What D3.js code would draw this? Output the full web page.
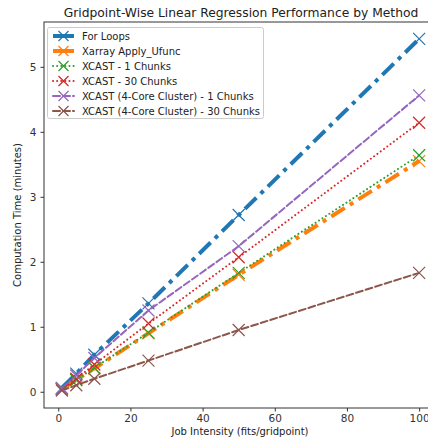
<!DOCTYPE html>
<html><head><meta charset="utf-8">
<script src="https://cdn.jsdelivr.net/npm/d3@7"></script>
<style>body{margin:0;background:#fff}svg{display:block;font-family:"DejaVu Sans",sans-serif}</style>
</head><body><svg id="c" width="428" height="442"></svg>
<script>
const intensities = [1, 5, 10, 25, 50, 100];
const seriesNames = ["For Loops","Xarray Apply_Ufunc","XCAST - 1 Chunks","XCAST - 30 Chunks","XCAST (4-Core Cluster) - 1 Chunks","XCAST (4-Core Cluster) - 30 Chunks"];
const forLoops   = [0.06, 0.28, 0.57, 1.36, 2.72, 5.43];
const xarrayUf   = [0.04, 0.18, 0.36, 0.90, 1.80, 3.55];
const xcast1     = [0.04, 0.18, 0.37, 0.91, 1.83, 3.64];
const xcast30    = [0.04, 0.20, 0.42, 1.05, 2.07, 4.14];
const cluster1   = [0.05, 0.25, 0.52, 1.25, 2.24, 4.56];
const cluster30  = [0.02, 0.10, 0.20, 0.48, 0.95, 1.83];
const xTicks = [0, 20, 40, 60, 80, 100];
const yTicks = [0, 1, 2, 3, 4, 5];

const allSeries = [forLoops, xarrayUf, xcast1, xcast30, cluster1, cluster30];
const colors = ["#1f77b4","#ff7f0e","#2ca02c","#d62728","#9467bd","#8c564b"];
const widths = [4, 4, 2, 2, 2, 2];
const dashes = ["16,6,4,6","16,6,4,6","0.1,4","0.1,4","7,3","7,3"];

const svg = d3.select("#c");
const L = 44, T = 22, B = 408, R = 437;
const x = d3.scaleLinear().domain([-3.95, 104.95]).range([L, R]);
const y = d3.scaleLinear().domain([-0.25, 5.69]).range([B, T]);

svg.append("text").attr("x", 241).attr("y", 17).attr("text-anchor","middle")
  .attr("font-size", 12.3).attr("fill","#222").text("Gridpoint-Wise Linear Regression Performance by Method");

const clip = svg.append("defs").append("clipPath").attr("id","pc");
clip.append("rect").attr("x", L).attr("y", T).attr("width", R-L).attr("height", B-T);

const g = svg.append("g").attr("clip-path","url(#pc)");
const line = d3.line().x((d,i)=>x(intensities[i])).y(d=>y(d));
allSeries.forEach((s,k)=>{
  g.append("path").attr("d", line(s)).attr("fill","none").attr("stroke", colors[k])
   .attr("stroke-width", widths[k]).attr("stroke-dasharray", dashes[k]).attr("stroke-linecap", k<2?"butt":"round");
});
const mk = 6;
allSeries.forEach((s,k)=>{
  s.forEach((v,i)=>{
    const cx = x(intensities[i]), cy = y(v);
    g.append("path").attr("d", `M${cx-mk},${cy-mk}L${cx+mk},${cy+mk}M${cx-mk},${cy+mk}L${cx+mk},${cy-mk}`)
      .attr("stroke", colors[k]).attr("stroke-width", 1.2).attr("fill","none");
  });
});

// frame
svg.append("rect").attr("x", L).attr("y", T).attr("width", R-L).attr("height", B-T)
  .attr("fill","none").attr("stroke","#333").attr("stroke-width",1);

const xa = svg.append("g").attr("transform",`translate(0,${B})`)
  .call(d3.axisBottom(x).tickValues(xTicks).tickFormat(d3.format("d")).tickSize(3.5).tickPadding(3));
const ya = svg.append("g").attr("transform",`translate(${L},0)`)
  .call(d3.axisLeft(y).tickValues(yTicks).tickFormat(d3.format("d")).tickSize(3.5).tickPadding(4));
[xa, ya].forEach(a=>{
  a.select(".domain").remove();
  a.selectAll("text").attr("font-size", 10.5).attr("fill","#333").attr("font-family","DejaVu Sans");
  a.selectAll("line").attr("stroke","#333");
});

svg.append("text").attr("x", 240).attr("y", 435).attr("text-anchor","middle")
  .attr("font-size", 10).attr("fill","#222").text("Job Intensity (fits/gridpoint)");
svg.append("text").attr("transform","translate(21,215) rotate(-90)").attr("text-anchor","middle")
  .attr("font-size", 10).attr("fill","#222").text("Computation Time (minutes)");

// legend
const lg = svg.append("g");
lg.append("rect").attr("x", 47.5).attr("y", 27.5).attr("width", 216).attr("height", 91).attr("rx", 2)
  .attr("fill","#fff").attr("fill-opacity",0.8).attr("stroke","#ccc");
seriesNames.forEach((n,k)=>{
  const yy = 36 + k*15;
  lg.append("line").attr("x1", 53).attr("x2", 74).attr("y1", yy).attr("y2", yy)
    .attr("stroke", colors[k]).attr("stroke-width", widths[k])
    .attr("stroke-dasharray", k<2 ? null : dashes[k]).attr("stroke-linecap", k<2?"butt":"round");
  const cx = 63.5, m = 5;
  lg.append("path").attr("d", `M${cx-m},${yy-m}L${cx+m},${yy+m}M${cx-m},${yy+m}L${cx+m},${yy-m}`)
    .attr("stroke", colors[k]).attr("stroke-width", 1.2);
  lg.append("text").attr("x", 82).attr("y", yy+3.5).attr("font-size", 10).attr("fill","#222").text(n);
});
</script></body></html>
